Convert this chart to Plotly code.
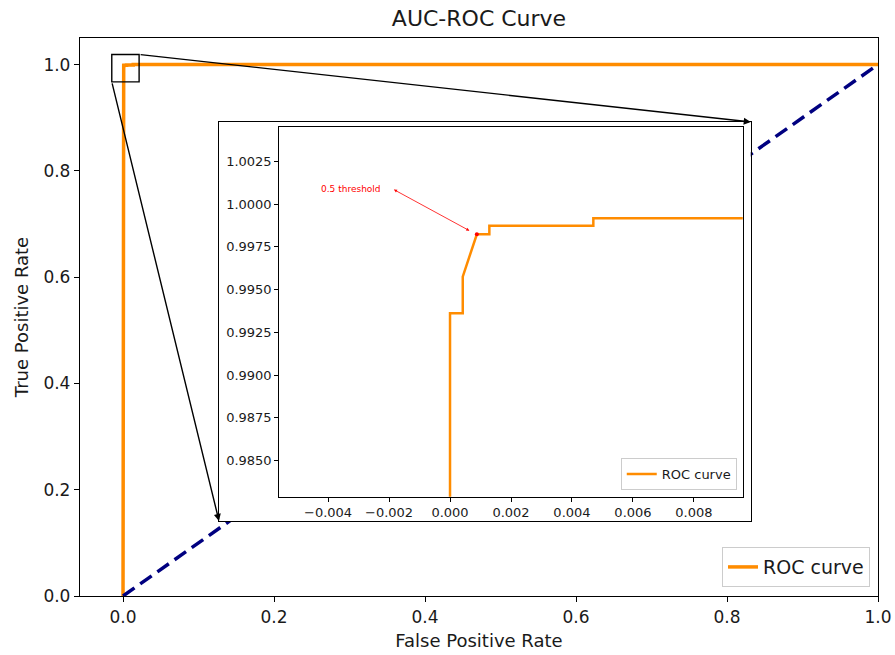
import plotly.graph_objects as go

# ---- data -------------------------------------------------------------
# ROC curve (false positive rate, true positive rate)
fpr = [0.0, 0.0, 0.000418, 0.000418, 0.00088, 0.00129, 0.00129, 0.0047, 0.0047, 0.0135, 0.0135, 1.0]
tpr = [0.0, 0.99362, 0.99362, 0.99576, 0.99824, 0.99824, 0.99873, 0.99873, 0.99918, 0.99918, 1.0, 1.0]

# chance diagonal
chance_x = [0.0, 1.0]
chance_y = [0.0, 1.0]

# operating point at the 0.5 decision threshold
threshold_fpr = [0.00088]
threshold_tpr = [0.99824]
threshold_label = "0.5 threshold"

# tick values / labels
main_ticks = [0.0, 0.2, 0.4, 0.6, 0.8, 1.0]
main_ticktext = ["0.0", "0.2", "0.4", "0.6", "0.8", "1.0"]
inset_xticks = [-0.004, -0.002, 0.0, 0.002, 0.004, 0.006, 0.008]
inset_xticktext = ["\u22120.004", "\u22120.002", "0.000", "0.002", "0.004", "0.006", "0.008"]
inset_yticks = [0.985, 0.9875, 0.99, 0.9925, 0.995, 0.9975, 1.0, 1.0025]
inset_yticktext = ["0.9850", "0.9875", "0.9900", "0.9925", "0.9950", "0.9975", "1.0000", "1.0025"]

# ---- layout constants -------------------------------------------------
MAIN_X_RANGE = [-0.057, 1.0]
MAIN_Y_RANGE = [0.0, 1.05]
INSET_X_RANGE = [-0.0056, 0.0096]
INSET_Y_RANGE = [0.98288, 1.0045]
FRAME_X = [0.1742, 0.8405]      # white panel holding the zoomed view (paper units)
FRAME_Y = [0.1344, 0.8495]
INSET_X = [0.2497, 0.8305]      # zoomed axes domain
INSET_Y = [0.1780, 0.8400]
ZOOM_X = [-0.0149, 0.0213]      # region marked on the main axes
ZOOM_Y = [0.9675, 1.019]

FONT = "DejaVu Sans"
ORANGE = "#ff8c00"
NAVY = "#000080"


def paper_to_x(p):
    return MAIN_X_RANGE[0] + p * (MAIN_X_RANGE[1] - MAIN_X_RANGE[0])


def paper_to_y(p):
    return MAIN_Y_RANGE[0] + p * (MAIN_Y_RANGE[1] - MAIN_Y_RANGE[0])


fig = go.Figure()

# main axes
fig.add_trace(go.Scatter(x=fpr, y=tpr, mode="lines", name="ROC curve",
                         line=dict(color=ORANGE, width=3.5), legend="legend"))
fig.add_trace(go.Scatter(x=chance_x, y=chance_y, mode="lines", showlegend=False,
                         line=dict(color=NAVY, width=3.5, dash="14px,7px")))

# panel behind the zoomed axes (its own background hides the main lines)
fig.add_trace(go.Scatter(x=[], y=[], xaxis="x2", yaxis="y2", showlegend=False,
                         hoverinfo="skip"))

# zoomed axes
fig.add_trace(go.Scatter(x=fpr, y=tpr, mode="lines", name="ROC curve",
                         line=dict(color=ORANGE, width=2.5),
                         xaxis="x3", yaxis="y3", legend="legend2"))
fig.add_trace(go.Scatter(x=threshold_fpr, y=threshold_tpr, mode="markers",
                         marker=dict(color="red", size=4), showlegend=False,
                         xaxis="x3", yaxis="y3"))

axis_common = dict(showgrid=False, zeroline=False, showline=True, mirror=True,
                   linecolor="black", linewidth=1.3, ticks="outside",
                   tickcolor="black", automargin=False)

annotations = [
    # connectors from the marked region to the zoom panel
    dict(x=paper_to_x(FRAME_X[1]), y=paper_to_y(FRAME_Y[1]),
         ax=ZOOM_X[1], ay=ZOOM_Y[1], xref="x", yref="y", axref="x", ayref="y",
         text="", showarrow=True, arrowhead=2, arrowsize=1, arrowwidth=1.4,
         arrowcolor="black", standoff=0, startstandoff=0),
    dict(x=paper_to_x(FRAME_X[0]), y=paper_to_y(FRAME_Y[0]),
         ax=ZOOM_X[0], ay=ZOOM_Y[0], xref="x", yref="y", axref="x", ayref="y",
         text="", showarrow=True, arrowhead=2, arrowsize=1, arrowwidth=1.4,
         arrowcolor="black", standoff=0, startstandoff=0),
    # threshold callout in the zoomed view
    dict(x=0.000636, y=0.99845, ax=-0.00189, ay=1.0009,
         xref="x3", yref="y3", axref="x3", ayref="y3",
         text="", showarrow=True, arrowhead=2, arrowside="end+start",
         arrowsize=0.8, arrowwidth=0.8, arrowcolor="red", standoff=0),
    dict(x=-0.00324, y=1.0009, xref="x3", yref="y3", text=threshold_label,
         showarrow=False, font=dict(family=FONT, size=9, color="red")),
]

fig.update_layout(
    template="none",
    width=895, height=655,
    margin=dict(l=80, r=17, t=38, b=59),
    paper_bgcolor="white",
    plot_bgcolor="rgb(255,255,255)",
    font=dict(family=FONT, size=17, color="#1a1a1a"),
    title=dict(text="AUC-ROC Curve", x=0.5, xref="paper", xanchor="center",
               y=1 - 18 / 655, yref="container", yanchor="middle",
               font=dict(family=FONT, size=22, color="#1a1a1a")),
    xaxis=dict(axis_common, domain=[0, 1], range=MAIN_X_RANGE,
               tickvals=main_ticks, ticktext=main_ticktext, ticklen=5,
               title=dict(text="False Positive Rate", standoff=8,
                          font=dict(size=18))),
    yaxis=dict(axis_common, domain=[0, 1], range=MAIN_Y_RANGE,
               tickvals=main_ticks, ticktext=main_ticktext, ticklen=5,
               title=dict(text="True Positive Rate", standoff=10,
                          font=dict(size=18))),
    xaxis2=dict(domain=FRAME_X, anchor="y2", range=[0, 1], showgrid=False,
                zeroline=False, showline=True, mirror=True, linecolor="black",
                linewidth=1.3, ticks="", showticklabels=False, automargin=False),
    yaxis2=dict(domain=FRAME_Y, anchor="x2", range=[0, 1], showgrid=False,
                zeroline=False, showline=True, mirror=True, linecolor="black",
                linewidth=1.3, ticks="", showticklabels=False, automargin=False),
    xaxis3=dict(axis_common, domain=INSET_X, anchor="y3", range=INSET_X_RANGE,
                tickvals=inset_xticks, ticktext=inset_xticktext, ticklen=4,
                linewidth=1, tickfont=dict(size=13)),
    yaxis3=dict(axis_common, domain=INSET_Y, anchor="x3", range=INSET_Y_RANGE,
                tickvals=inset_yticks, ticktext=inset_yticktext, ticklen=4,
                linewidth=1, tickfont=dict(size=13)),
    legend=dict(x=0.99, y=0.016, xanchor="right", yanchor="bottom",
                bgcolor="rgba(255,255,255,0.8)", bordercolor="#cccccc",
                borderwidth=1, font=dict(size=19)),
    legend2=dict(x=0.823, y=0.19, xanchor="right", yanchor="bottom",
                 bgcolor="rgba(255,255,255,0.8)", bordercolor="#cccccc",
                 borderwidth=1, font=dict(size=13)),
    shapes=[dict(type="rect", xref="x", yref="y", x0=ZOOM_X[0], x1=ZOOM_X[1],
                 y0=ZOOM_Y[0], y1=ZOOM_Y[1], line=dict(color="black", width=1.4),
                 layer="above")],
    annotations=annotations,
    showlegend=True,
)

fig.write_html("out.html")
